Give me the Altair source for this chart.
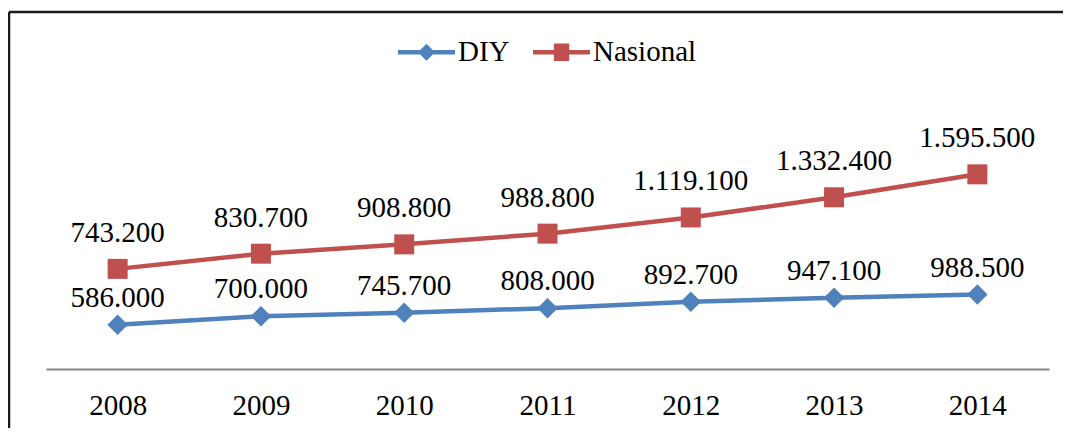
import altair as alt
import pandas as pd

years = ["2008", "2009", "2010", "2011", "2012", "2013", "2014"]
series_names = ["DIY", "Nasional"]
diy = [586000, 700000, 745700, 808000, 892700, 947100, 988500]
nasional = [743200, 830700, 908800, 988800, 1119100, 1332400, 1595500]
colors = ["#4F81BD", "#C0504D"]

rows = []
for s, vals in zip(series_names, [diy, nasional]):
    for y, v in zip(years, vals):
        rows.append({"year": y, "series": s, "value": v,
                     "label": f"{v:,}".replace(",", ".")})
df = pd.DataFrame(rows)

FONT = "Liberation Serif"
FS = 29

# legend symbols: line with marker
diy_sym = ("M-1,-0.075L-0.22,-0.075L0,-0.3L0.22,-0.075L1,-0.075L1,0.075"
           "L0.22,0.075L0,0.3L-0.22,0.075L-1,0.075Z")
nas_sym = ("M-1,-0.075L-0.27,-0.075L-0.27,-0.31L0.27,-0.31L0.27,-0.075L1,-0.075"
           "L1,0.075L0.27,0.075L0.27,0.31L-0.27,0.31L-0.27,0.075L-1,0.075Z")

base = alt.Chart(df).transform_stack(
    stack="value", groupby=["year"], as_=["y0", "y1"],
    sort=[alt.SortField("series", order="ascending")]
)

x_enc = alt.X(
    "year:N",
    sort=years,
    scale=alt.Scale(type="point", padding=0.5),
    axis=alt.Axis(
        labelFont=FONT, labelFontSize=FS, labelColor="black",
        labelPadding=22, ticks=False, tickSize=0, grid=False,
        domainColor="#868686", domainWidth=2, labelAngle=0,
    ),
    title=None,
)
y_enc = alt.Y("y1:Q", scale=alt.Scale(domain=[0, 3000000]), axis=None, title=None)

layers = []
# legend layer (no marks drawn, only provides the legend)
legend_layer = base.transform_filter("false").mark_point(filled=True).encode(
    color=alt.Color("series:N", scale=alt.Scale(domain=series_names, range=colors),
                    title=None, legend=alt.Legend(symbolOpacity=1)),
    shape=alt.Shape("series:N", scale=alt.Scale(domain=series_names, range=[diy_sym, nas_sym]),
                    title=None, legend=alt.Legend(symbolOpacity=1)),
)
layers.append(legend_layer)

frame_df = pd.DataFrame({"k": [0]})
layers.append(alt.Chart(frame_df).mark_rule(color="#1a1a1a", strokeWidth=2.5).encode(
    x=alt.value(-37), y=alt.value(-131), y2=alt.value(300)
))
layers.append(alt.Chart(frame_df).mark_rule(color="#1a1a1a", strokeWidth=2.5).encode(
    x=alt.value(-37), x2=alt.value(1017), y=alt.value(-131)
))

shapes = {"DIY": ("diamond", 420, -18), "Nasional": ("square", 400, -27)}
for s, col in zip(series_names, colors):
    sub = base.transform_filter(alt.datum.series == s)
    layers.append(sub.mark_line(strokeWidth=4.5, color=col).encode(x=x_enc, y=y_enc))
for s, col in zip(series_names, colors):
    shp, sz, dy = shapes[s]
    sub = base.transform_filter(alt.datum.series == s)
    layers.append(sub.mark_point(shape=shp, size=sz, filled=True, opacity=1, color=col)
                  .encode(x=x_enc, y=y_enc))
    layers.append(sub.mark_text(font=FONT, fontSize=FS, color="black",
                                baseline="alphabetic", dy=dy)
                  .encode(x=x_enc, y=y_enc, text="label:N"))

chart = alt.layer(*layers).properties(
    width=1003, height=226,
    padding={"left": 38, "top": 135, "right": 14, "bottom": 59},
    autosize=alt.AutoSizeParams(type="none"),
).configure(
    font=FONT
).configure_view(
    strokeWidth=0
).configure_legend(
    orient="none", legendX=352, legendY=-119.5, direction="horizontal",
    symbolSize=3249, symbolStrokeWidth=0, labelFont=FONT, labelFontSize=FS,
    labelColor="black", labelOffset=3, columnPadding=23, padding=0,
)

chart.save("out.html", embed_options={"renderer": "svg", "actions": False})
